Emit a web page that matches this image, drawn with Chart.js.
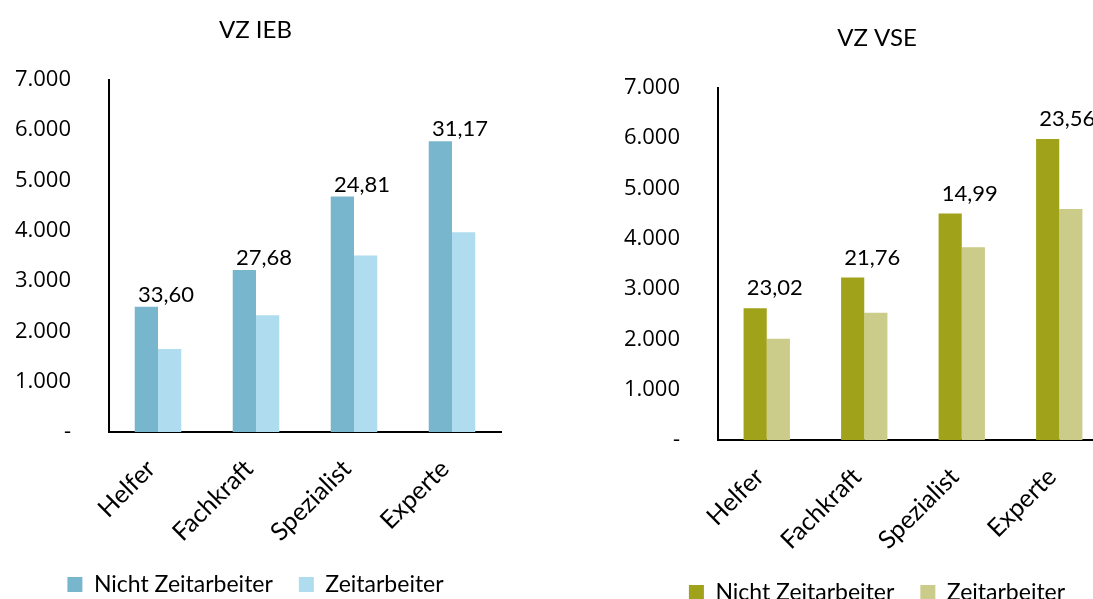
<!DOCTYPE html>
<html>
<head>
<meta charset="utf-8">
<script src="https://cdn.jsdelivr.net/npm/chart.js@4"></script>
<style>
  html, body { margin: 0; padding: 0; background: #fff; overflow: hidden; width: 1093px; height: 599px; }
  canvas { position: absolute; }
</style>
</head>
<body>
<canvas id="ieb" width="510" height="606" style="left:0;top:0"></canvas>
<canvas id="vse" width="560" height="606" style="left:600px;top:8px"></canvas>
<script>
const categories = ['Helfer', 'Fachkraft', 'Spezialist', 'Experte'];
const seriesNames = ['Nicht Zeitarbeiter', 'Zeitarbeiter'];
const yTickLabels = ['-', '1.000', '2.000', '3.000', '4.000', '5.000', '6.000', '7.000'];

// VZ IEB
const iebNicht = [2490, 3220, 4680, 5780];
const iebZeit = [1650, 2320, 3510, 3970];
const iebLabels = ['33,60', '27,68', '24,81', '31,17'];

// VZ VSE
const vseNicht = [2620, 3230, 4500, 5980];
const vseZeit = [2010, 2530, 3830, 4590];
const vseLabels = ['23,02', '21,76', '14,99', '23,56'];

// text above the dark bars
const barLabels = {
  id: 'barLabels',
  afterDatasetsDraw(chart, args, opts) {
    const ctx = chart.ctx;
    const meta = chart.getDatasetMeta(0);
    const xs = chart.scales.x;
    ctx.save();
    ctx.font = '22px Lato';
    ctx.fillStyle = '#000';
    ctx.textAlign = 'center';
    ctx.textBaseline = 'middle';
    meta.data.forEach((bar, i) => {
      ctx.fillText(opts.texts[i], xs.getPixelForValue(i) + opts.dx, bar.y - opts.dy);
    });
    ctx.restore();
  }
};

function makeChart(id, title, nicht, zeit, texts, colors, dy, pad, yWidth, spacer) {
  return new Chart(document.getElementById(id), {
    type: 'bar',
    data: {
      labels: categories,
      datasets: [
        { label: seriesNames[0], data: nicht, backgroundColor: colors[0] },
        { label: seriesNames[1], data: zeit, backgroundColor: colors[1] }
      ]
    },
    options: {
      responsive: false,
      animation: false,
      barPercentage: 1,
      categoryPercentage: 0.475,
      layout: { padding: { left: pad[0], right: pad[1], top: 0, bottom: 0 } },
      plugins: {
        title: {
          display: true, text: title, color: '#000',
          font: { family: 'Lato', size: 24, weight: 'normal' },
          padding: { top: 16, bottom: 35 }
        },
        legend: {
          position: 'bottom',
          labels: { boxWidth: 15, boxHeight: 15, padding: 26, color: '#000',
                    font: { family: 'Lato', size: 23 } }
        },
        tooltip: { enabled: false },
        barLabels: { texts: texts, dx: 8, dy: dy }
      },
      scales: {
        x: {
          grid: { display: false, drawTicks: false },
          border: { color: '#000', width: 2 },
          ticks: { color: '#000', font: { family: 'Lato', size: 25 },
                   maxRotation: 45, minRotation: 45, padding: 22, labelOffset: -7 },
          afterFit(s) { s.height = 115; }
        },
        y: {
          min: 0, max: 7000,
          grid: { display: false, drawTicks: false },
          border: { color: '#000', width: 2 },
          ticks: { stepSize: 1000, color: '#000', font: { family: "'Open Sans', sans-serif", size: 22 }, padding: 38,
                   callback: (v, i) => yTickLabels[i] },
          afterFit(s) { s.width = yWidth; }
        },
        // empty space on the right so title and legend sit where they should
        yR: {
          axis: 'y', position: 'right', display: spacer > 0,
          grid: { display: false, drawTicks: false },
          border: { display: false },
          ticks: { display: false },
          afterFit(s) { s.width = spacer; }
        }
      }
    },
    plugins: [barLabels]
  });
}

makeChart('ieb', 'VZ IEB', iebNicht, iebZeit, iebLabels, ['#78b6ce', '#afdcee'], 12, [10, 9], 99, 0);
makeChart('vse', 'VZ VSE', vseNicht, vseZeit, vseLabels, ['#a0a219', '#cbcb8a'], 20, [16, 22], 102, 30);
</script>
</body>
</html>
